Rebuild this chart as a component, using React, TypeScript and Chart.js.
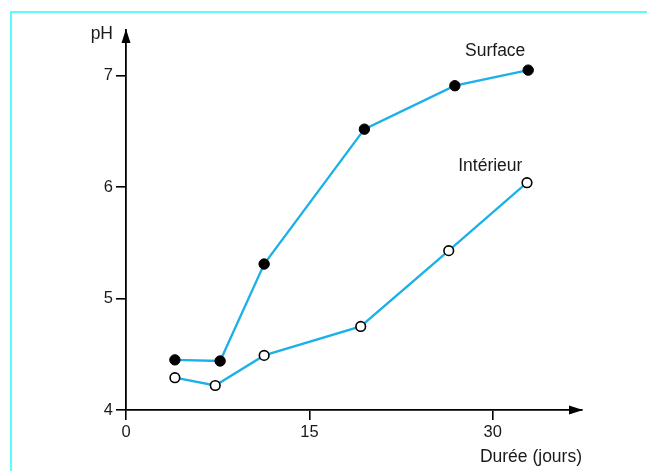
import React, { useEffect, useRef } from "react";
import { Chart, registerables } from "chart.js";

Chart.register(...registerables);

const surfaceDays = [4.0, 7.7, 11.3, 19.5, 26.9, 32.9];
const surfacePH = [4.45, 4.44, 5.31, 6.52, 6.91, 7.05];
const interiorDays = [4.0, 7.3, 11.3, 19.2, 26.4, 32.8];
const interiorPH = [4.29, 4.22, 4.49, 4.75, 5.43, 6.04];
const xTicks = [0, 15, 30];
const yTicks = [4, 5, 6, 7];
const seriesLabels = ["Surface", "Intérieur"];
const labelPositions = [
  [30.2, 7.22],
  [29.8, 6.19],
];

const FONT = "'Liberation Sans', Arial, sans-serif";
const LINE = "#1cb0e8";

const decorPlugin = {
  id: "decor",
  beforeDraw(chart: any) {
    const ctx = chart.ctx;
    ctx.save();
    ctx.strokeStyle = "#5cfcfc";
    ctx.lineWidth = 2;
    ctx.beginPath();
    ctx.moveTo(11, 471);
    ctx.lineTo(11, 12);
    ctx.lineTo(647, 12);
    ctx.stroke();
    ctx.restore();
  },
  afterDraw(chart: any) {
    const ctx = chart.ctx;
    const { left, right, top, bottom } = chart.chartArea;
    ctx.save();
    ctx.fillStyle = "#000";
    // x arrow
    ctx.beginPath();
    ctx.moveTo(right + 1, bottom);
    ctx.lineTo(right - 13, bottom - 4.5);
    ctx.lineTo(right - 13, bottom + 4.5);
    ctx.closePath();
    ctx.fill();
    // y arrow
    ctx.beginPath();
    ctx.moveTo(left, top - 1);
    ctx.lineTo(left - 4.5, top + 13);
    ctx.lineTo(left + 4.5, top + 13);
    ctx.closePath();
    ctx.fill();

    ctx.fillStyle = "#1a1a1a";
    ctx.font = `17.5px ${FONT}`;
    ctx.textBaseline = "middle";
    ctx.textAlign = "right";
    ctx.fillText("pH", left - 13, 34);
    ctx.fillText("Durée (jours)", right, 457);

    const xs = chart.scales.x;
    const ys = chart.scales.y;
    ctx.textAlign = "center";
    seriesLabels.forEach((t, i) => {
      const [dx, dy] = labelPositions[i];
      ctx.fillText(t, xs.getPixelForValue(dx), ys.getPixelForValue(dy));
    });
    ctx.restore();
  },
};

export default function App() {
  const ref = useRef<HTMLCanvasElement>(null);
  useEffect(() => {
    if (!ref.current) return;
    const chart = new Chart(ref.current, {
      type: "scatter",
      data: {
        datasets: [
          {
            label: seriesLabels[0],
            data: surfaceDays.map((x, i) => ({ x, y: surfacePH[i] })),
            showLine: true,
            borderColor: LINE,
            borderWidth: 2.3,
            pointRadius: 5.2,
            pointBackgroundColor: "#000",
            pointBorderColor: "#000",
            pointBorderWidth: 1,
          },
          {
            label: seriesLabels[1],
            data: interiorDays.map((x, i) => ({ x, y: interiorPH[i] })),
            showLine: true,
            borderColor: LINE,
            borderWidth: 2.3,
            pointRadius: 4.8,
            pointBackgroundColor: "#fff",
            pointBorderColor: "#000",
            pointBorderWidth: 1.6,
          },
        ],
      },
      options: {
        animation: false,
        responsive: false,
        devicePixelRatio: 1,
        layout: { padding: { left: 0, top: 30, right: 65, bottom: 0 } },
        plugins: { legend: { display: false }, tooltip: { enabled: false } },
        scales: {
          x: {
            type: "linear",
            min: 0,
            max: 37.3,
            afterFit: (s: any) => {
              s.height = 61;
            },
            afterBuildTicks: (s: any) => {
              s.ticks = xTicks.map((v) => ({ value: v }));
            },
            grid: {
              drawOnChartArea: false,
              drawTicks: true,
              tickLength: 10,
              color: "#000",
              lineWidth: 1.6,
            },
            border: { display: true, color: "#000", width: 1.8 },
            ticks: {
              color: "#1a1a1a",
              padding: 3,
              font: { family: FONT, size: 16.5 },
              maxRotation: 0,
            },
          },
          y: {
            type: "linear",
            min: 4,
            max: 7.41,
            afterFit: (s: any) => {
              s.width = 126;
            },
            afterBuildTicks: (s: any) => {
              s.ticks = yTicks.map((v) => ({ value: v }));
            },
            grid: {
              drawOnChartArea: false,
              drawTicks: true,
              tickLength: 10,
              color: "#000",
              lineWidth: 1.6,
            },
            border: { display: true, color: "#000", width: 1.8 },
            ticks: {
              color: "#1a1a1a",
              padding: 3,
              font: { family: FONT, size: 16.5 },
            },
          },
        },
      },
      plugins: [decorPlugin],
    });
    return () => chart.destroy();
  }, []);
  return (
    <div style={{ position: "fixed", left: 0, top: 0, width: 647, height: 471, background: "#fff" }}>
      <canvas ref={ref} width={647} height={471} style={{ display: "block" }} />
    </div>
  );
}
